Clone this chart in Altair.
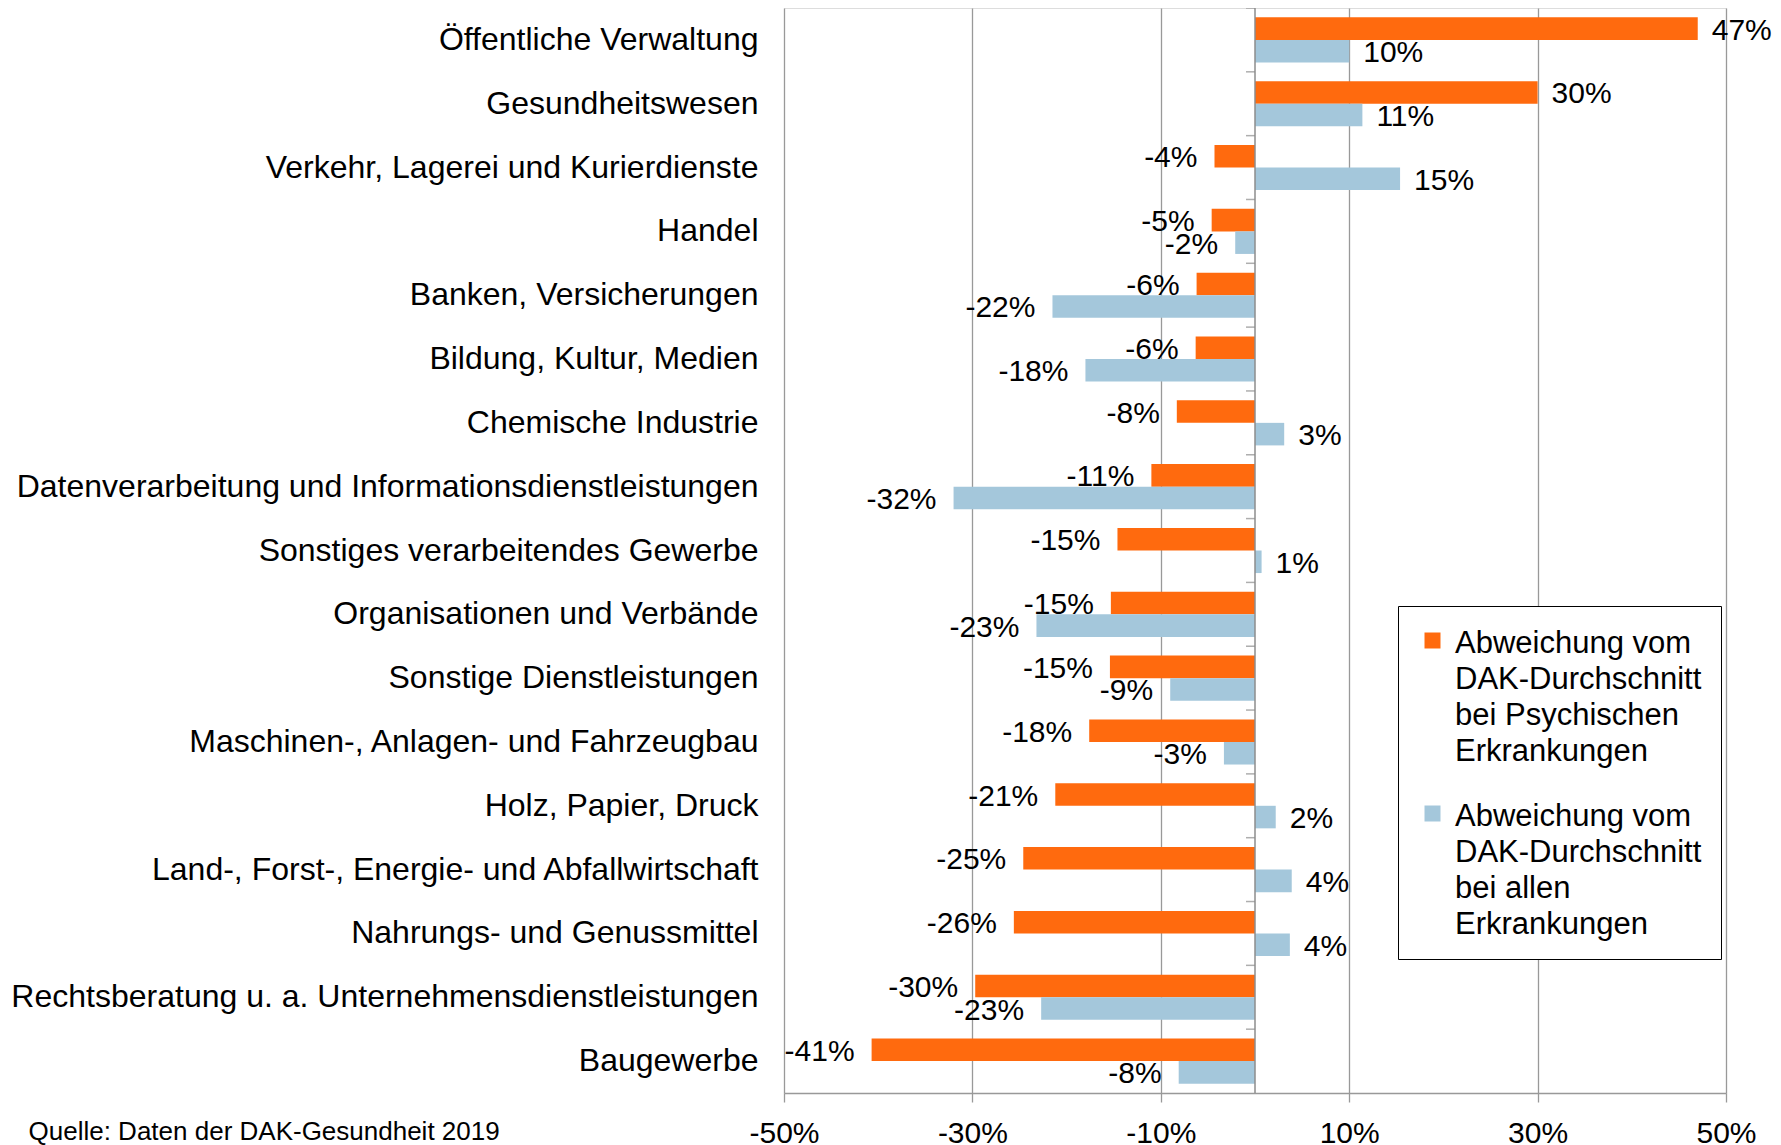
import altair as alt
import pandas as pd

categories = [
    "Öffentliche Verwaltung",
    "Gesundheitswesen",
    "Verkehr, Lagerei und Kurierdienste",
    "Handel",
    "Banken, Versicherungen",
    "Bildung, Kultur, Medien",
    "Chemische Industrie",
    "Datenverarbeitung und Informationsdienstleistungen",
    "Sonstiges verarbeitendes Gewerbe",
    "Organisationen und Verbände",
    "Sonstige Dienstleistungen",
    "Maschinen-, Anlagen- und Fahrzeugbau",
    "Holz, Papier, Druck",
    "Land-, Forst-,  Energie- und Abfallwirtschaft",
    "Nahrungs- und Genussmittel",
    "Rechtsberatung u. a. Unternehmensdienstleistungen",
    "Baugewerbe",
]
psych_values = [47.0, 30.0, -4.3, -4.6, -6.2, -6.3, -8.3, -11.0, -14.6, -15.3, -15.4,
                -17.6, -21.2, -24.6, -25.6, -29.7, -40.7]
all_values = [10.0, 11.4, 15.4, -2.1, -21.5, -18.0, 3.1, -32.0, 0.7, -23.2, -9.0,
              -3.3, 2.2, 3.9, 3.7, -22.7, -8.1]
series_names = [
    "Abweichung vom\nDAK-Durchschnitt\nbei Psychischen\nErkrankungen",
    "Abweichung vom\nDAK-Durchschnitt\nbei allen\nErkrankungen",
]
series_colors = ["#FF6A0E", "#A4C7DB"]
x_ticks = [-50, -30, -10, 10, 30, 50]
source_note = "Quelle: Daten der DAK-Gesundheit 2019"

rows = []
for cat, p, a in zip(categories, psych_values, all_values):
    rows.append({"Branche": cat, "Reihe": series_names[0], "Wert": p, "Label": f"{round(p)}%"})
    rows.append({"Branche": cat, "Reihe": series_names[1], "Wert": a, "Label": f"{round(a)}%"})
df = pd.DataFrame(rows)
cat_df = pd.DataFrame({"Branche": categories, "Null": [0] * len(categories)})

W, H = 942, 1085
FONT = "Liberation Sans"
GRID = "#999999"
AXIS_GRAY = "#8C8C8C"
LEG_DY = -12

x_scale = alt.Scale(domain=[-50, 50], nice=False, zero=False)
y_scale = alt.Scale(domain=categories, paddingInner=0, paddingOuter=0)
yoff_scale = alt.Scale(domain=series_names, paddingInner=0, paddingOuter=0.415)

base = alt.Chart(df)

bars = base.mark_bar().encode(
    x=alt.X("Wert:Q", scale=x_scale,
            axis=alt.Axis(values=x_ticks, labelExpr="datum.value + '%'", grid=True,
                          gridColor=GRID, gridWidth=1.3, domainColor=GRID, domainWidth=1.3,
                          tickColor=GRID, tickWidth=1.3, tickSize=9, labelFlush=False,
                          labelFontSize=30, labelPadding=16 - LEG_DY, labelColor="black",
                          labelFont=FONT,
                          title=source_note, titleX=-756, titleY=38, titleAlign="left",
                          titleAnchor="start", titleBaseline="middle", titleFontSize=26,
                          titleFontWeight="normal", titleFont=FONT,
                          titleColor="black")),
    y=alt.Y("Branche:N", sort=categories, scale=y_scale,
            axis=alt.Axis(orient="left", domain=False, ticks=False, grid=False,
                          labelPadding=26, labelFontSize=32, labelLimit=1000,
                          labelOffset=-LEG_DY, labelColor="black", labelFont=FONT,
                          title=None)),
    yOffset=alt.YOffset("Reihe:N", sort=series_names, scale=yoff_scale),
    color=alt.Color("Reihe:N", sort=series_names,
                    scale=alt.Scale(domain=series_names, range=series_colors),
                    legend=alt.Legend(orient="none", legendX=614, legendY=598, title=None,
                                      labelExpr="split(datum.label, '\\n')",
                                      labelFontSize=31, labelFont=FONT, labelColor="black",
                                      labelLimit=1000, labelOffset=7, labelBaseline="top",
                                      symbolType="square", symbolSize=256,
                                      symbolStrokeWidth=0, rowPadding=31,
                                      padding=19, strokeColor="black", fillColor="white")),
)

zero_line = alt.Chart(cat_df).mark_rule(color=AXIS_GRAY, strokeWidth=1.5).encode(
    x=alt.X("min(Null):Q", scale=x_scale)
)

zero_ticks = alt.Chart(cat_df).mark_tick(
    orient="horizontal", size=9, thickness=1.5, color=AXIS_GRAY, xOffset=-4.5
).encode(
    x=alt.X("Null:Q", scale=x_scale),
    y=alt.Y("Branche:N", sort=categories, scale=y_scale, bandPosition=0),
)

labels_pos = base.transform_filter("datum.Wert >= 0").mark_text(
    align="left", baseline="middle", dx=14, dy=2, fontSize=30, font=FONT, color="black"
).encode(
    x=alt.X("Wert:Q", scale=x_scale),
    y=alt.Y("Branche:N", sort=categories, scale=y_scale),
    yOffset=alt.YOffset("Reihe:N", sort=series_names, scale=yoff_scale),
    text="Label:N",
)

labels_neg = base.transform_filter("datum.Wert < 0").mark_text(
    align="right", baseline="middle", dx=-17, dy=2, fontSize=30, font=FONT, color="black"
).encode(
    x=alt.X("Wert:Q", scale=x_scale),
    y=alt.Y("Branche:N", sort=categories, scale=y_scale),
    yOffset=alt.YOffset("Reihe:N", sort=series_names, scale=yoff_scale),
    text="Label:N",
)

chart = alt.layer(bars, zero_line, zero_ticks, labels_pos, labels_neg).properties(
    width=W, height=H,
    autosize=alt.AutoSizeParams(type="none"),
    padding={"left": 776, "top": 0, "right": 47, "bottom": 52},
).configure_view(stroke=None).configure(
    font=FONT,
    style={"guide-label": {"lineHeight": 36, "dy": LEG_DY}},
)

chart.save("out.html", embed_options={"renderer": "svg", "actions": False})
